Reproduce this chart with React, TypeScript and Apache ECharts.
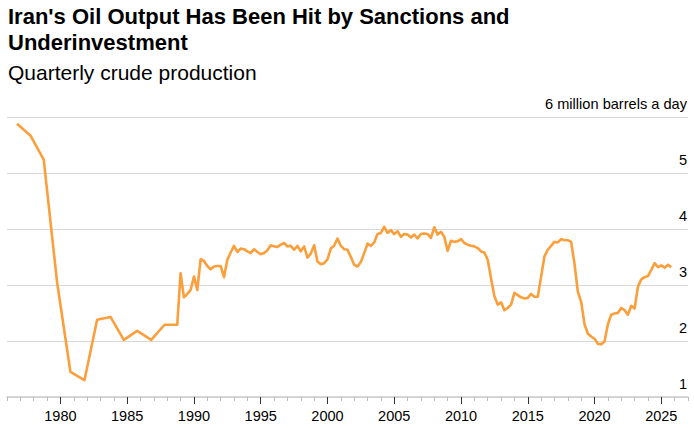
import React, { useEffect, useRef } from "react";
import * as echarts from "echarts";

// Annual points (before quarterly data), decimal year positions
const annualDates = [1976.75, 1977.75, 1978.75, 1979.75, 1980.75, 1981.8, 1982.75, 1983.75, 1984.75, 1985.75, 1986.8, 1987.8, 1988.75];
const annualOutput = [5.88, 5.67, 5.24, 3.05, 1.45, 1.3, 2.38, 2.43, 2.02, 2.18, 2.02, 2.29, 2.29];

// Quarterly crude production, million barrels a day (Q1..Q4 per year)
const quarterYears = [
  1989, 1990, 1991, 1992, 1993, 1994, 1995, 1996, 1997, 1998, 1999, 2000, 2001,
  2002, 2003, 2004, 2005, 2006, 2007, 2008, 2009, 2010, 2011, 2012, 2013, 2014,
  2015, 2016, 2017, 2018, 2019, 2020, 2021, 2022, 2023, 2024, 2025,
];
const quarterlyOutput = [
  [3.21, 2.78, 2.84, 2.91], // 1989
  [3.15, 2.91, 3.46, 3.43], // 1990
  [3.34, 3.28, 3.33, 3.34], // 1991
  [3.34, 3.14, 3.45, 3.58], // 1992
  [3.7, 3.59, 3.65, 3.64], // 1993
  [3.6, 3.57, 3.64, 3.59], // 1994
  [3.55, 3.57, 3.62, 3.71], // 1995
  [3.69, 3.68, 3.72, 3.75], // 1996
  [3.69, 3.7, 3.63, 3.7], // 1997
  [3.6, 3.69, 3.49, 3.56], // 1998
  [3.71, 3.42, 3.37, 3.39], // 1999
  [3.46, 3.65, 3.7, 3.83], // 2000
  [3.7, 3.64, 3.63, 3.5], // 2001
  [3.36, 3.33, 3.41, 3.57], // 2002
  [3.74, 3.7, 3.76, 3.91], // 2003
  [3.93, 4.04, 3.93, 3.98], // 2004
  [3.91, 3.96, 3.86, 3.91], // 2005
  [3.9, 3.85, 3.9, 3.83], // 2006
  [3.91, 3.92, 3.91, 3.84], // 2007
  [4.03, 3.9, 3.95, 3.86], // 2008
  [3.61, 3.79, 3.77, 3.78], // 2009
  [3.82, 3.75, 3.72, 3.7], // 2010
  [3.69, 3.66, 3.6, 3.58], // 2011
  [3.45, 3.12, 2.8, 2.65], // 2012
  [2.69, 2.55, 2.59, 2.65], // 2013
  [2.86, 2.82, 2.78, 2.76], // 2014
  [2.77, 2.84, 2.79, 2.79], // 2015
  [3.15, 3.51, 3.63, 3.7], // 2016
  [3.77, 3.76, 3.82, 3.8], // 2017
  [3.8, 3.77, 3.38, 2.88], // 2018
  [2.7, 2.3, 2.13, 2.08], // 2019
  [2.04, 1.95, 1.94, 1.99], // 2020
  [2.3, 2.47, 2.49, 2.5], // 2021
  [2.59, 2.55, 2.47, 2.63], // 2022
  [2.58, 2.97, 3.1, 3.14], // 2023
  [3.16, 3.27, 3.39, 3.32], // 2024
  [3.35, 3.31, 3.36, 3.32], // 2025
];

const xLabelYears = [1980, 1985, 1990, 1995, 2000, 2005, 2010, 2015, 2020, 2025];
const yTicks = [1, 2, 3, 4, 5, 6];

const TITLE = "Iran's Oil Output Has Been Hit by Sanctions and\nUnderinvestment";
const SUBTITLE = "Quarterly crude production";
const UNIT = "6 million barrels a day";

const FONT = "'Liberation Sans', Arial, Helvetica, sans-serif";
const ORANGE = "#fa9f3c";

export default function App() {
  const ref = useRef<HTMLDivElement>(null);

  useEffect(() => {
    if (!ref.current) return;
    const chart = echarts.init(ref.current, undefined, { renderer: "svg" });

    const seriesData: [number, number][] = [];
    annualDates.forEach((d, i) => seriesData.push([d, annualOutput[i]]));
    quarterYears.forEach((y, yi) => {
      quarterlyOutput[yi].forEach((v, q) => seriesData.push([y + q * 0.25, v]));
    });

    chart.setOption({
      animation: false,
      backgroundColor: "#ffffff",
      textStyle: { fontFamily: FONT },
      title: [
        {
          text: TITLE,
          left: 8,
          top: 3,
          padding: 0,
          textStyle: {
            fontFamily: FONT,
            fontSize: 22,
            fontWeight: "bold",
            lineHeight: 26,
            color: "#000000",
          },
        },
        {
          text: SUBTITLE,
          left: 8,
          top: 61,
          padding: 0,
          textStyle: {
            fontFamily: FONT,
            fontSize: 21,
            fontWeight: "normal",
            lineHeight: 22,
            color: "#000000",
          },
        },
      ],
      grid: { left: 7, right: 6, top: 117, bottom: 31, containLabel: false },
      xAxis: [
        {
          type: "value",
          min: 1976,
          max: 2027,
          interval: 1,
          axisLine: { show: true, lineStyle: { color: "#cccccc", width: 1.5 } },
          axisTick: { show: true, length: 4, lineStyle: { color: "#bbbbbb", width: 1 } },
          axisLabel: {
            show: true,
            margin: 11,
            fontSize: 14.5,
            color: "#000000",
            fontFamily: FONT,
            formatter: (v: number) => (xLabelYears.indexOf(v) >= 0 ? String(v) : ""),
          },
          splitLine: { show: false },
        },
        {
          type: "value",
          min: 1976,
          max: 2027,
          position: "bottom",
          axisLine: { show: false },
          axisTick: {
            show: true,
            length: 7,
            customValues: xLabelYears,
            lineStyle: { color: "#333333", width: 1 },
          },
          axisLabel: { show: false },
          splitLine: { show: false },
        },
      ],
      yAxis: {
        type: "value",
        min: yTicks[0],
        max: yTicks[yTicks.length - 1],
        interval: 1,
        position: "right",
        axisLine: { show: false },
        axisTick: { show: false },
        splitLine: { show: true, lineStyle: { color: "#d9d9d9", width: 1 } },
        axisLabel: {
          inside: true,
          margin: 1,
          fontSize: 14.6,
          color: "#000000",
          fontFamily: FONT,
          verticalAlign: "bottom",
          padding: [0, 0, 6, 0],
          formatter: (v: number) => (v === 6 ? UNIT : String(v)),
        },
      },
      series: [
        {
          type: "line",
          xAxisIndex: 0,
          data: seriesData,
          showSymbol: false,
          symbol: "none",
          lineStyle: { color: ORANGE, width: 2.6, join: "round" },
          z: 3,
        },
      ],
    });

    return () => chart.dispose();
  }, []);

  return (
    <div
      ref={ref}
      style={{ position: "fixed", left: 0, top: 0, width: 694, height: 428, background: "#fff" }}
    />
  );
}
